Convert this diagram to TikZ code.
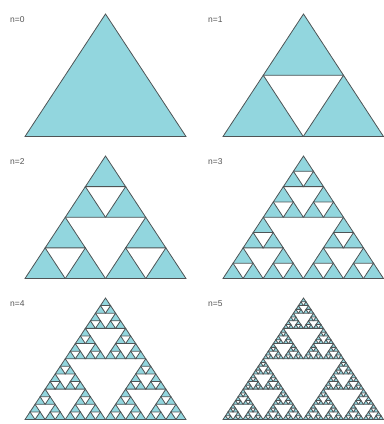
\documentclass[tikz,border=0pt]{standalone}
\usepackage{fontspec}
\setsansfont{Liberation Sans}
\definecolor{trifill}{RGB}{146,214,222}
\definecolor{triline}{RGB}{78,84,86}
\definecolor{labelgray}{RGB}{85,85,85}
\tikzset{
  tri/.style={fill=trifill, draw=triline, line width=0.8bp, line join=miter},
  lbl/.style={anchor=west, inner sep=0pt, font=\sffamily\fontsize{8.5}{9}\selectfont, text=labelgray}
}
\newcommand\sierp[7]{%
  \ifnum#1=0\relax
    \filldraw[tri] (#2,#3) -- (#4,#5) -- (#6,#7) -- cycle;
  \else
    \begingroup
    \pgfmathsetmacro\mABx{(#2+#4)/2}%
    \pgfmathsetmacro\mABy{(#3+#5)/2}%
    \pgfmathsetmacro\mBCx{(#4+#6)/2}%
    \pgfmathsetmacro\mBCy{(#5+#7)/2}%
    \pgfmathsetmacro\mCAx{(#6+#2)/2}%
    \pgfmathsetmacro\mCAy{(#7+#3)/2}%
    \pgfmathtruncatemacro\lv{#1-1}%
    \edef\next{%
      \noexpand\sierp{\lv}{#2}{#3}{\mABx}{\mABy}{\mCAx}{\mCAy}%
      \noexpand\sierp{\lv}{\mABx}{\mABy}{#4}{#5}{\mBCx}{\mBCy}%
      \noexpand\sierp{\lv}{\mCAx}{\mCAy}{\mBCx}{\mBCy}{#6}{#7}}%
    \next
    \endgroup
  \fi}
\begin{document}
\begin{tikzpicture}[x=1bp,y=-1bp]
\useasboundingbox (0,0) rectangle (384,424);
% row 1
\sierp{0}{105.5}{14}{186}{136.5}{25}{136.5}
\sierp{1}{303.5}{14}{383.5}{136.5}{223}{136.5}
% row 2
\sierp{2}{105.5}{156}{186}{278.5}{25}{278.5}
\sierp{3}{303.5}{156}{383.5}{278.5}{223}{278.5}
% row 3
\sierp{4}{105.5}{298}{186}{419.5}{25}{419.5}
\sierp{5}{303.5}{298}{383.5}{419.5}{223}{419.5}
% labels
\node[lbl] (l0) at (10,19.5) {n=0};
\node[lbl] (l1) at (208,19.5) {n=1};
\node[lbl] (l2) at (10,161.5) {n=2};
\node[lbl] (l3) at (208,161.5) {n=3};
\node[lbl] (l4) at (10,303.5) {n=4};
\node[lbl] (l5) at (208,303.5) {n=5};
\end{tikzpicture}
\end{document}
